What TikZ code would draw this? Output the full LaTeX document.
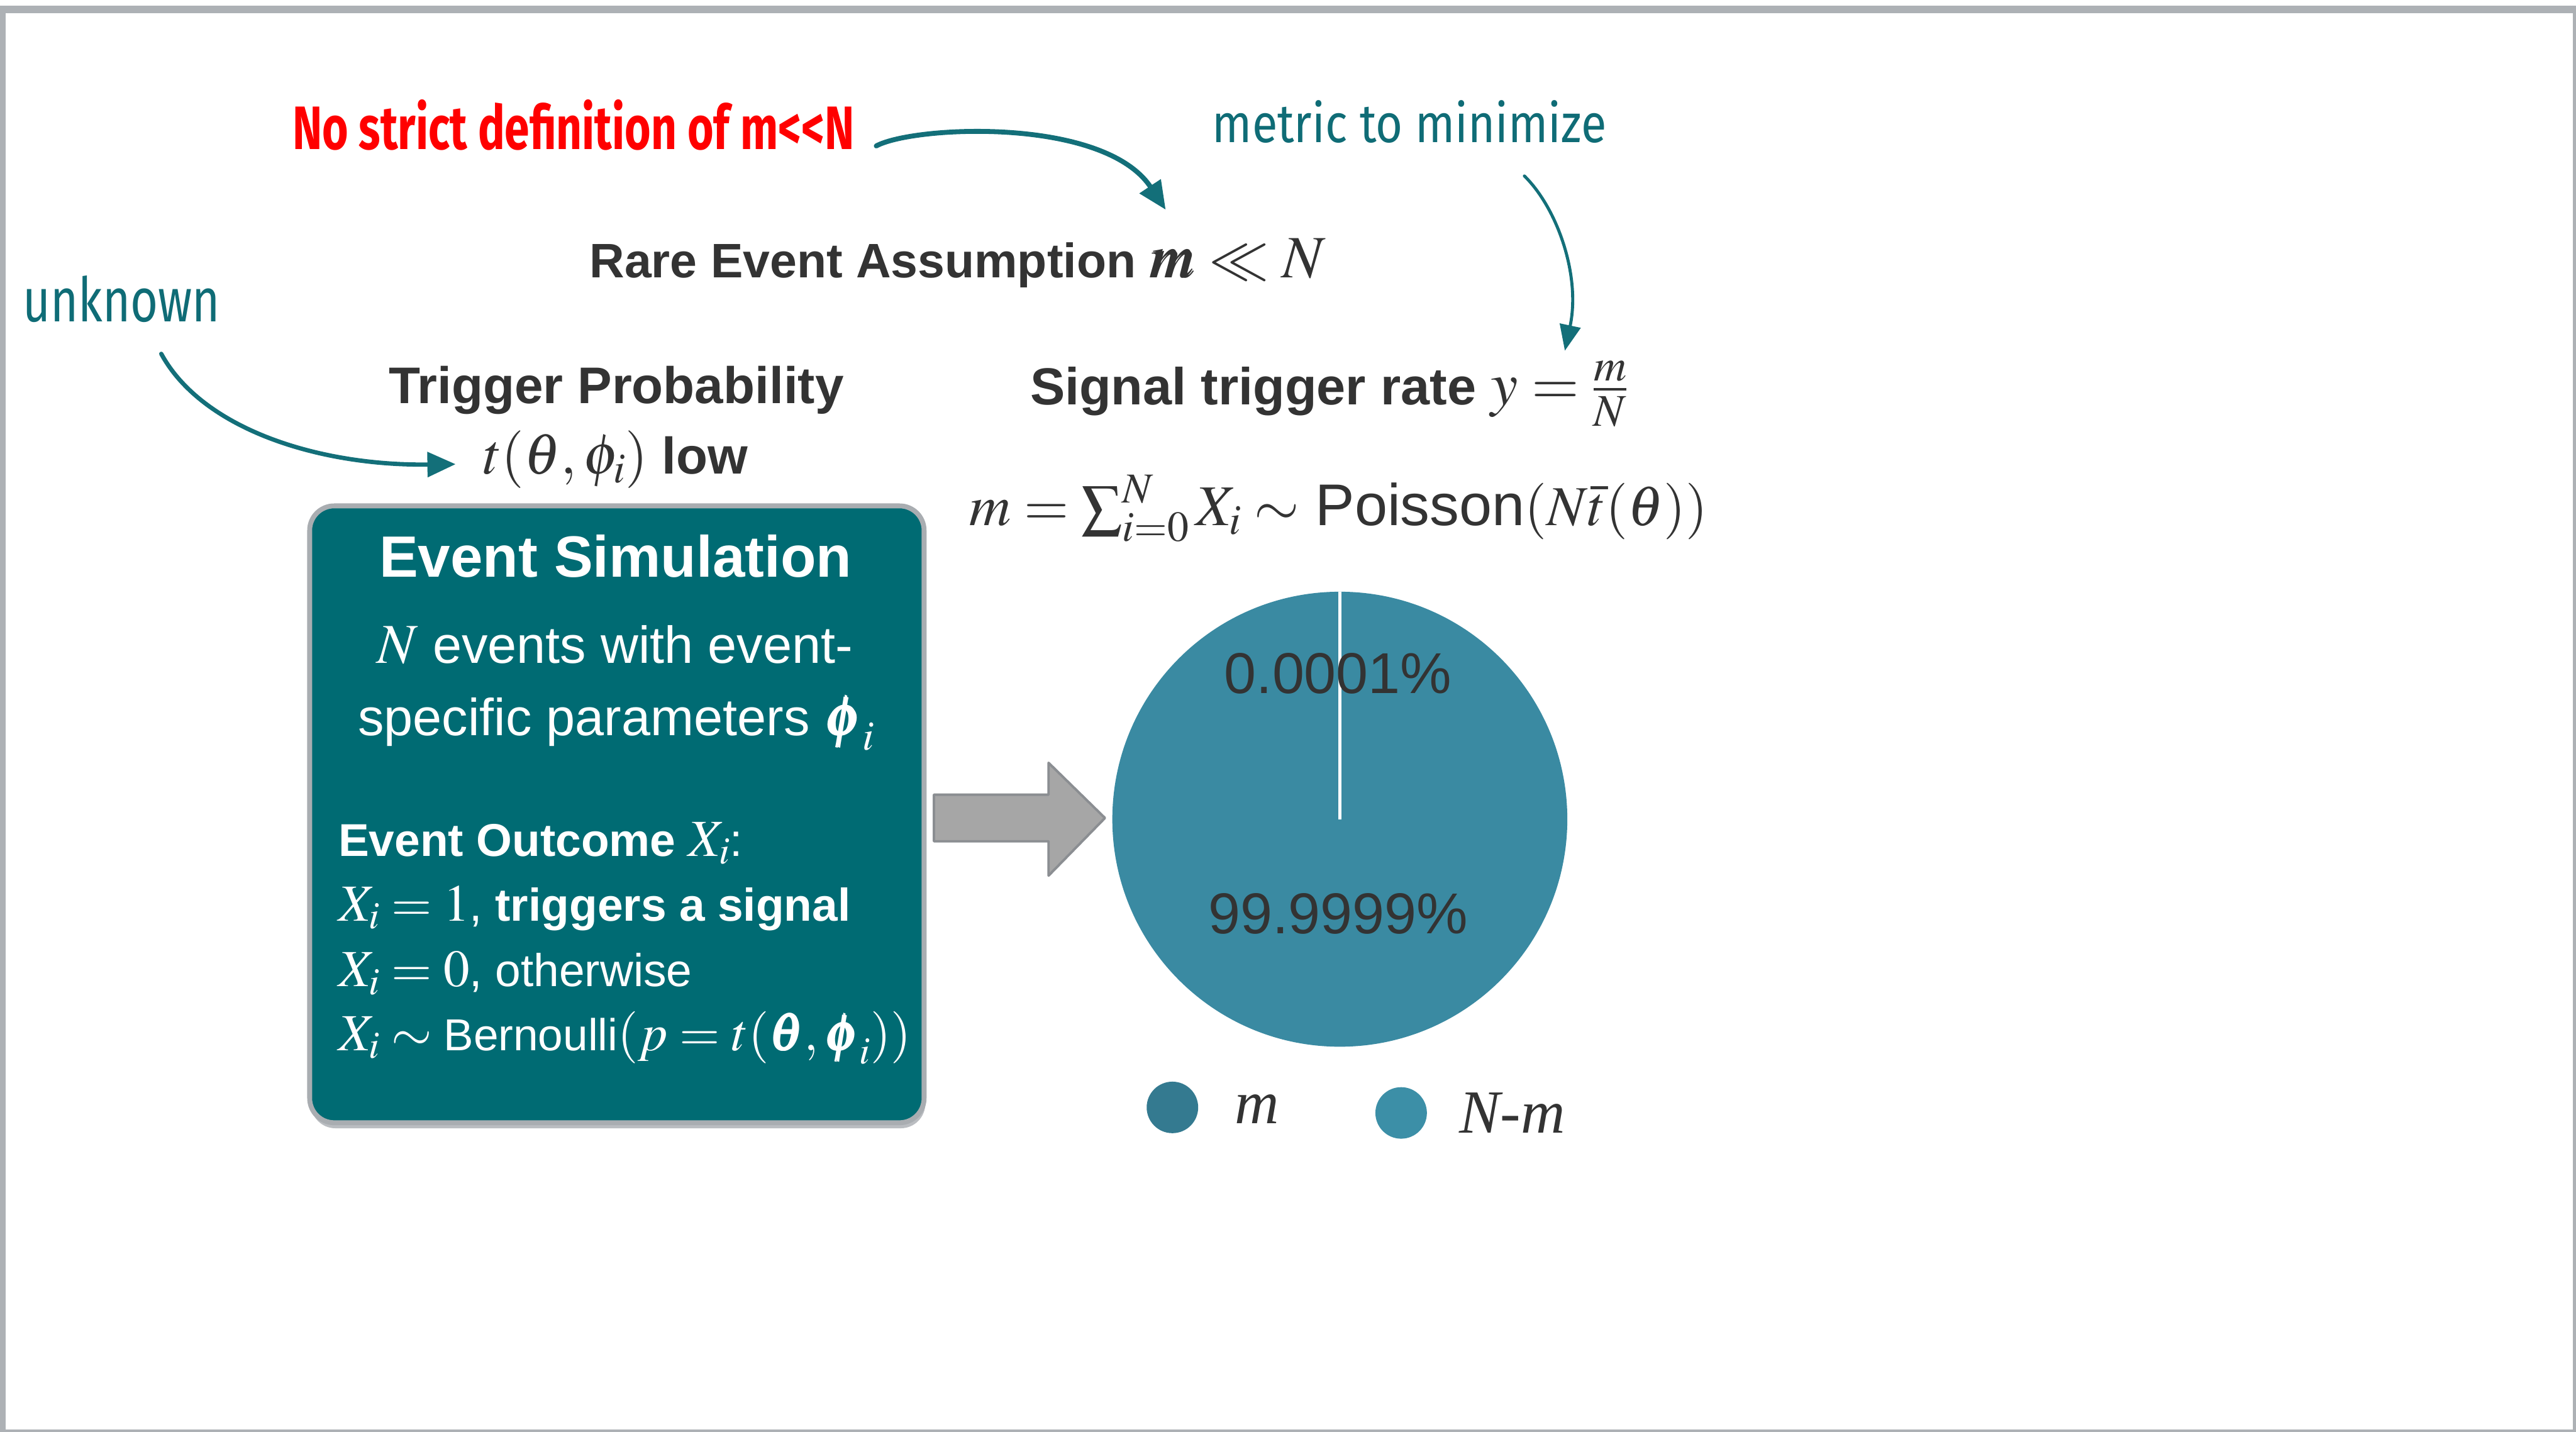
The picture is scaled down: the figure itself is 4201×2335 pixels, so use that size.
\documentclass[tikz,border=0pt]{standalone}
\usepackage{mathptmx}
\usepackage{bm}
\usepackage[no-math]{fontspec}
\setmainfont{Liberation Sans}
\newfontfamily\handfont{Fira Sans}
\newfontfamily\serifit{Liberation Serif}
\usepackage{graphicx}
\usetikzlibrary{arrows.meta}
\definecolor{darktxt}{HTML}{333333}
\definecolor{tealbox}{HTML}{006B73}
\definecolor{tealtxt}{HTML}{0F6C76}
\definecolor{tealarrow}{HTML}{136F79}
\definecolor{pieblue}{HTML}{3A8AA2}
\definecolor{legm}{HTML}{347A90}
\definecolor{legn}{HTML}{3C8FA7}
\definecolor{redc}{HTML}{FF0000}
\definecolor{framegray}{HTML}{ADB1B5}
\definecolor{arrowgray}{HTML}{A6A6A6}
\definecolor{arrowedge}{HTML}{8B8E92}
\definecolor{boxedge}{HTML}{A9ADB1}
\newcommand{\setfs}[1]{\fontsize{#1}{#1}\selectfont}
\newcommand{\fitw}[2]{\resizebox{#1}{\height}{#2}}
\newcommand{\msz}[2]{{\setfs{#1}$#2$}}
\begin{document}
\begin{tikzpicture}[x=1pt,y=-1pt,
  txt/.style={inner sep=0pt, outer sep=0pt, text=darktxt},
  wtxt/.style={inner sep=0pt, outer sep=0pt, text=white},
  annot/.style={draw=tealarrow, line width=7pt, line cap=round,
    -{Triangle[length=46pt,width=40pt]}},
  simbox/.style={draw=boxedge, line width=8pt, fill=tealbox, rounded corners=40pt,
    minimum width=1002pt, minimum height=1006pt, inner sep=0pt},
  legdot/.style={circle, inner sep=0pt, minimum size=84pt}
]
\useasboundingbox (0,0) rectangle (4201,2335);
\fill[white] (0,0) rectangle (4201,2335);
% frame
\fill[framegray] (0,9) rectangle (4201,22);
\fill[framegray] (0,9) rectangle (9,2335);
\fill[framegray] (4196,9) rectangle (4201,2335);
\fill[framegray] (0,2331) rectangle (4201,2335);

% annotations
\node[inner sep=0pt, anchor=base west, text=redc] (nostrict) at (477,244)
  {\fitw{916pt}{\handfont\bfseries\setfs{100}No strict definition of m<<N}};
\node[inner sep=0pt, anchor=base west, text=tealtxt] (metric) at (1977,232)
  {\fitw{643pt}{\handfont\setfs{88}metric to minimize}};
\node[inner sep=0pt, anchor=base west, text=tealtxt] (unknown) at (37,525)
  {\fitw{322pt}{\handfont\setfs{100}unknown}};

% headings
\node[txt, anchor=base] (rare) at (1562,453)
  {\setfs{79}\bfseries Rare Event Assumption \msz{98}{\bm{m} \ll N}};
\node[txt, anchor=base] (trig) at (1005,658)
  {\setfs{84}\bfseries Trigger Probability};
\node[txt, anchor=base] (tlow) at (1004,773)
  {\setfs{84}\msz{94}{t(\theta, \phi_i)} \textbf{low}};
\node[txt, anchor=base west] (rate) at (1680,660)
  {\setfs{85}\textbf{Signal trigger rate} \msz{100}{y = \frac{m}{N}}};
\node[txt, anchor=base west] (poisson) at (1581,857)
  {\setfs{96}\msz{94}{m = \sum_{i=0}^{N} X_i \sim} Poisson\msz{92}{(N\bar{t}(\theta))}};

% simulation box
\fill[boxedge!80, rounded corners=40pt] (507,837) rectangle (1509,1840);
\node[simbox] (sim) at (1006,1328) {};
\node[wtxt, anchor=base] (simtitle) at (1004,941)
  {\setfs{95}\bfseries Event Simulation};
\node[wtxt, anchor=base] (simA) at (1003,1082)
  {\setfs{85}\msz{92}{N} events with event-};
\node[wtxt, anchor=base] (simB) at (1005,1199)
  {\setfs{85}specific parameters \msz{92}{\bm{\phi}_i}};
\node[wtxt, anchor=base west] (simC) at (552,1396)
  {\setfs{75}\textbf{Event Outcome} \msz{85}{X_i}:};
\node[wtxt, anchor=base west] (simD) at (552,1502)
  {\setfs{75}\msz{85}{X_i = 1}, \textbf{triggers a signal}};
\node[wtxt, anchor=base west] (simE) at (552,1609)
  {\setfs{75}\msz{85}{X_i = 0}, otherwise};
\node[wtxt, anchor=base west] (simF) at (552,1713)
  {\setfs{73}\msz{85}{X_i \sim{}}Bernoulli\msz{85}{(p = t(\bm{\theta}, \bm{\phi}_i))}};

% block arrow
\draw[fill=arrowgray, draw=arrowedge, line width=4pt, line join=round]
  (1523,1296) -- (1710,1296) -- (1710,1244) -- (1802,1334) -- (1710,1428)
  -- (1710,1372) -- (1523,1372) -- cycle;

% pie
\node[circle, fill=pieblue, minimum size=742pt, inner sep=0pt] (pie) at (2185,1336) {};
\draw[white, line width=5pt] (pie.north) -- (pie.center);
\node[txt, anchor=base] (pctA) at (2182,1131) {\setfs{94}0.0001\%};
\node[txt, anchor=base] (pctB) at (2182,1523) {\setfs{94}99.9999\%};

% legend
\node[legdot, fill=legm] (lm) at (1912,1806) {};
\node[txt, anchor=base west] (lmtxt) at (2014,1832) {\serifit\itshape\setfs{100}m};
\node[legdot, fill=legn] (ln) at (2285,1815) {};
\node[txt, anchor=base west] (lntxt) at (2380,1848) {\serifit\itshape\setfs{100}N-m};

% annotation arrows
\coordinate (a1s) at (1429,238);
\coordinate (a1e) at (1901,342);
\draw[annot, line width=8pt] (a1s) .. controls (1490,205) and (1800,190) .. (a1e);
\coordinate (a2s) at (2486,287);
\coordinate (a2e) at (2552,572);
\draw[annot, line width=5pt, -{Triangle[length=42pt,width=34pt]}]
  (a2s) .. controls (2540,340) and (2578,450) .. (a2e);
\coordinate (a3s) at (263,577);
\coordinate (a3e) at (743,757);
\draw[annot] (a3s) .. controls (330,700) and (520,760) .. (a3e);
\end{tikzpicture}
\end{document}
